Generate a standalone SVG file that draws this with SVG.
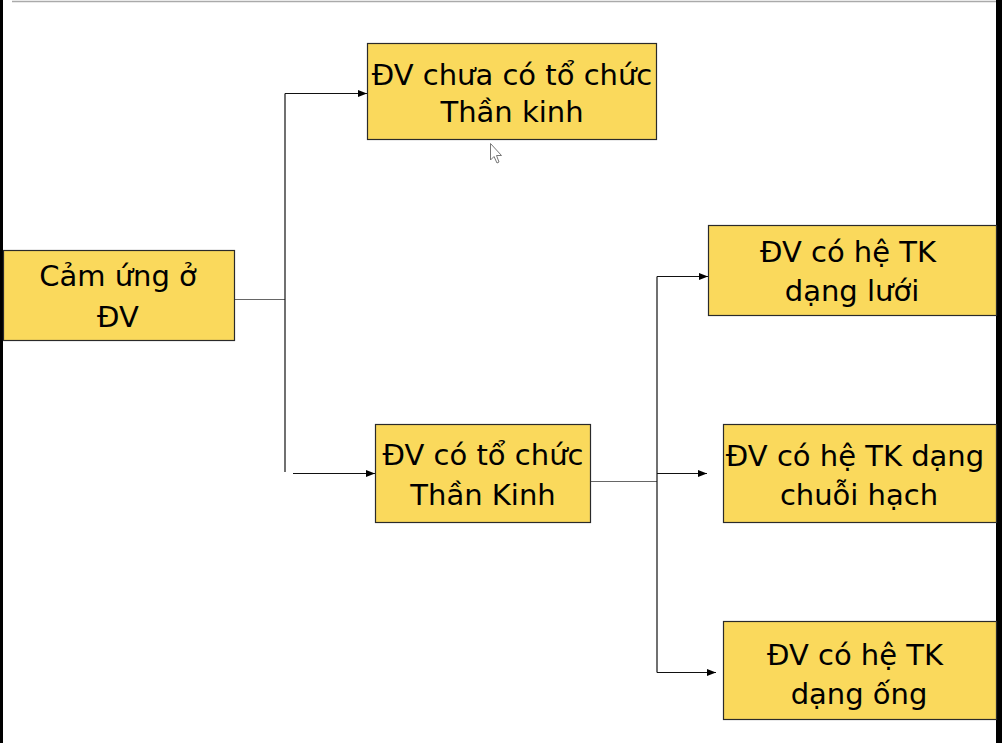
<svg xmlns="http://www.w3.org/2000/svg" width="1002" height="743" viewBox="0 0 1002 743">
<style>
.box{fill:#FAD95C;stroke:#2a2a2a;stroke-width:1.2}
.t{font-family:"DejaVu Sans",sans-serif;font-size:29px;fill:#000;text-anchor:middle}
.ln{fill:none;stroke:#111;stroke-width:1.2}
.gl{fill:none;stroke:#666;stroke-width:1.2}
</style>
<defs>
<marker id="ah" viewBox="0 0 10 10" refX="10" refY="5" markerWidth="9" markerHeight="9" markerUnits="userSpaceOnUse" orient="auto">
<path d="M0,1 L10,5 L0,9 Z" fill="#000"/>
</marker>
</defs>
<rect x="0" y="0" width="1002" height="743" fill="#fff"/>
<line x1="12" y1="1.5" x2="1000" y2="1.5" stroke="#aaa" stroke-width="1.5"/>
<rect x="0" y="0" width="3" height="743" fill="#000"/>
<rect x="996" y="0" width="6" height="743" fill="#000"/>
<g id="connectors">
<path class="gl" d="M235,299.5 H285"/>
<path class="ln" d="M285,93.5 V472"/>
<path class="ln" d="M285,93.5 H367" marker-end="url(#ah)"/>
<path class="ln" d="M293,473.5 H375" marker-end="url(#ah)"/>
<path class="gl" d="M591,481.5 H657"/>
<path class="ln" d="M657,276.5 V672.5"/>
<path class="ln" d="M657,276.5 H708" marker-end="url(#ah)"/>
<path class="ln" d="M657,473.5 H707" marker-end="url(#ah)"/>
<path class="ln" d="M657,672.5 H716" marker-end="url(#ah)"/>
</g>
<g id="node-camung">
<rect class="box" x="3.5" y="250.5" width="231" height="90"/>
<text class="t" x="118" y="286">Cảm ứng ở</text>
<text class="t" x="118" y="327">ĐV</text>
</g>
<g id="node-chuaco">
<rect class="box" x="367.5" y="43.5" width="289" height="96"/>
<text class="t" x="512" y="85">ĐV chưa có tổ chức</text>
<text class="t" x="512" y="122">Thần kinh</text>
</g>
<g id="node-coto">
<rect class="box" x="375.5" y="424.5" width="215" height="98"/>
<text class="t" x="483" y="465">ĐV có tổ chức</text>
<text class="t" x="483" y="505">Thần Kinh</text>
</g>
<g id="node-luoi">
<rect class="box" x="708.5" y="225.5" width="288" height="90"/>
<text class="t" x="848" y="262">ĐV có hệ TK</text>
<text class="t" x="852" y="301">dạng lưới</text>
</g>
<g id="node-chuoihach">
<rect class="box" x="723.5" y="424.5" width="273" height="98"/>
<text class="t" x="855" y="466">ĐV có hệ TK dạng</text>
<text class="t" x="859" y="505">chuỗi hạch</text>
</g>
<g id="node-ong">
<rect class="box" x="723.5" y="621.5" width="273" height="98"/>
<text class="t" x="855" y="665">ĐV có hệ TK</text>
<text class="t" x="859" y="704">dạng ống</text>
</g>
<path d="M490.5,143.5 L490.5,160 L494,156.5 L497,163 L499,162 L496.5,155.5 L501.5,155.5 Z" fill="#fff" stroke="#777" stroke-width="1"/>
</svg>
